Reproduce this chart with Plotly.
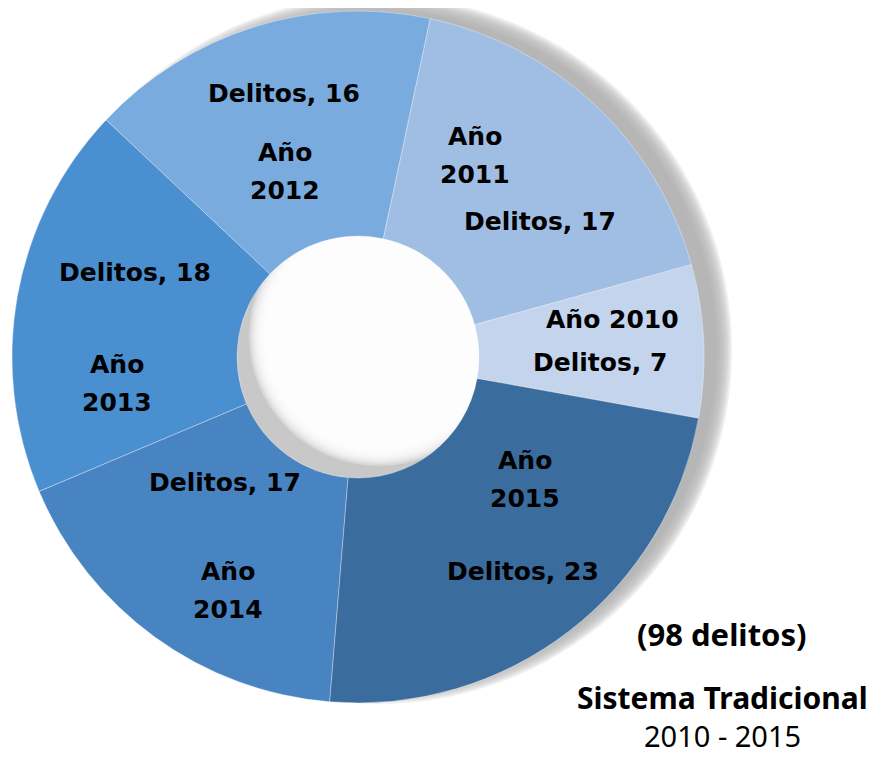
import math
import plotly.graph_objects as go

# ---- data ----
years = ["2010", "2011", "2012", "2013", "2014", "2015"]
delitos = [7, 17, 16, 18, 17, 23]
colors = ["#c3d4ec", "#a0bee4", "#79abdf", "#4a8fd0", "#4884c2", "#3a6c9e"]
total_label = "(98 delitos)"
title_label = "Sistema Tradicional"
period_label = "2010 - 2015"

# ---- layout geometry (screen pixels) ----
W, H = 877, 757
PAGE_OFF = 8  # page body margin shifts the figure on screen
CX, CY, R = 358, 357, 346
HOLE_R = 121
START_DEG = -10.2  # math angle where first slice starts

# per-year label placement: (fraction of slice span, radius px)
delitos_pos = [(0.35, 242), (0.34, 227), (0.47, 274), (0.34, 239), (0.33, 183), (0.50, 271)]
ano_pos = [(0.72, 257), (0.71, 233), (0.57, 199), (0.75, 242), (0.61, 267), (0.69, 207)]
ano_single_line = [True, False, False, False, False, False]


def px(x):
    return (x - PAGE_OFF) / W


def py(y):
    return 1 - (y - PAGE_OFF) / H


total = sum(delitos)
first_span = delitos[0] / total * 360
# plotly (counterclockwise): first slice's counterclockwise edge sits at `rotation`
rotation = 90 - (START_DEG + first_span)

fig = go.Figure()
fig.add_trace(go.Pie(
    labels=["Año " + y for y in years],
    values=delitos,
    marker=dict(colors=colors, line=dict(color="rgba(255,255,255,0.35)", width=1)),
    hole=HOLE_R / R,
    sort=False,
    direction="counterclockwise",
    rotation=rotation,
    textinfo="none",
    hoverinfo="label+value",
    showlegend=False,
    domain=dict(x=[px(CX - R), px(CX + R)], y=[py(CY + R), py(CY - R)]),
))

shapes = []


def circle(cx, cy, r, color, opacity):
    return dict(type="circle", xref="paper", yref="paper",
                x0=px(cx - r), x1=px(cx + r), y0=py(cy + r), y1=py(cy - r),
                fillcolor=color, opacity=opacity, line=dict(width=0), layer="below")


# outer soft shadow (offset up-right)
SDX, SDY, BLUR = 20, -7, 8
N = 10
for k in range(N):
    rr = R + BLUR - 2 * BLUR * k / (N - 1)
    shapes.append(circle(CX + SDX, CY + SDY, rr, "#b0b0b0", 0.2))

# inner hole shadow
shapes.append(circle(CX, CY, HOLE_R, "#c8c8c8", 1))
IDX, IDY, IBLUR = 21, -21, 9
for k in range(N):
    rr = HOLE_R + IBLUR - 2 * IBLUR * k / (N - 1)
    shapes.append(circle(CX + IDX, CY + IDY, rr, "#ffffff", 0.3))

annotations = []
lab_font = dict(family="DejaVu Sans", size=25, color="#000000")
cum = 0
for i, (yr, v) in enumerate(zip(years, delitos)):
    a0 = START_DEG + cum / total * 360
    span = v / total * 360
    cum += v
    # Delitos label
    f, r = delitos_pos[i]
    a = math.radians(a0 + f * span)
    x, y = CX + r * math.cos(a), CY - r * math.sin(a)
    annotations.append(dict(x=px(x), y=py(y), xref="paper", yref="paper",
                            text="<b>Delitos, %d</b>" % v, showarrow=False,
                            xanchor="center", yanchor="middle", font=lab_font))
    # Año label
    f, r = ano_pos[i]
    a = math.radians(a0 + f * span)
    x, y = CX + r * math.cos(a), CY - r * math.sin(a)
    if ano_single_line[i]:
        annotations.append(dict(x=px(x), y=py(y), xref="paper", yref="paper",
                                text="<b>Año %s</b>" % yr, showarrow=False,
                                xanchor="center", yanchor="middle", font=lab_font))
    else:
        annotations.append(dict(x=px(x), y=py(y), xref="paper", yref="paper",
                                text="<b>Año</b>", showarrow=False, yshift=19,
                                xanchor="center", yanchor="middle", font=lab_font))
        annotations.append(dict(x=px(x), y=py(y), xref="paper", yref="paper",
                                text="<b>%s</b>" % yr, showarrow=False, yshift=-19,
                                xanchor="center", yanchor="middle", font=lab_font))

annotations.append(dict(x=px(722), y=py(634), xref="paper", yref="paper",
                        text="<b>%s</b>" % total_label, showarrow=False,
                        xanchor="center", yanchor="middle",
                        font=dict(family="Noto Sans", size=31, color="#000000")))
annotations.append(dict(x=px(722), y=py(697), xref="paper", yref="paper",
                        text="<b>%s</b>" % title_label, showarrow=False,
                        xanchor="center", yanchor="middle",
                        font=dict(family="Noto Sans", size=30, color="#000000")))
annotations.append(dict(x=px(722), y=py(735), xref="paper", yref="paper",
                        text=period_label, showarrow=False,
                        xanchor="center", yanchor="middle",
                        font=dict(family="Noto Sans", size=29, color="#000000")))

fig.update_layout(
    width=W, height=H,
    margin=dict(l=0, r=0, t=0, b=0),
    paper_bgcolor="#ffffff",
    shapes=shapes,
    annotations=annotations,
)

fig.write_html("out.html")
